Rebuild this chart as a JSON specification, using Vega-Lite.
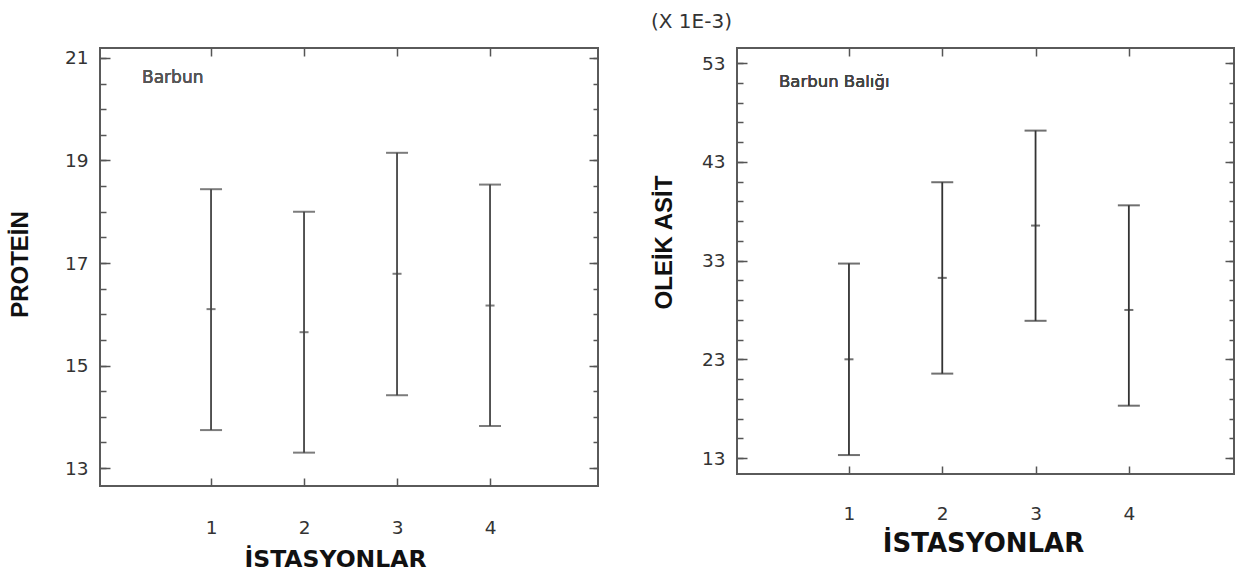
{
  "$schema": "https://vega.github.io/schema/vega-lite/v6.json",
  "background": "white",
  "padding": {"left": 7, "top": 11, "right": 0, "bottom": 0},
  "bounds": "flush",
  "spacing": 139,
  "config": {
    "view": {"stroke": "#5a5a5a", "strokeWidth": 2},
    "axis": {
      "domain": false, "grid": false,
      "labelFont": "DejaVu Sans", "labelFontSize": 18.5, "labelColor": "#333",
      "titleFont": "Liberation Sans", "titleFontSize": 24, "titleFontWeight": "bold", "titleColor": "#111",
      "tickColor": "#555", "tickWidth": 1.5
    }
  },
  "hconcat": [
    {
      "width": 498, "height": 438,
      "data": {"values": [
        {"st": 1, "lo": 13.74, "mean": 16.10, "hi": 18.44},
        {"st": 2, "lo": 13.30, "mean": 15.65, "hi": 18.00},
        {"st": 3, "lo": 14.42, "mean": 16.79, "hi": 19.15},
        {"st": 4, "lo": 13.82, "mean": 16.17, "hi": 18.53}
      ]},
      "resolve": {"axis": {"x": "independent", "y": "independent"}},
      "layer": [
        {
          "mark": {"type": "rule", "color": "#444", "strokeWidth": 1.8},
          "encoding": {
            "x": {"field": "st", "type": "quantitative", "scale": {"domain": [-0.194, 5.161], "nice": false, "zero": false},
                  "axis": {"orient": "bottom", "values": [1, 2, 3, 4], "format": "d", "tickSize": -8, "labelPadding": 55, "labelBaseline": "alphabetic",
                           "title": "İSTASYONLAR", "titleFont": "DejaVu Sans", "titleFontSize": 23.5, "titleX": 235, "titleY": 80, "titleBaseline": "alphabetic", "titleAlign": "center", "titleAnchor": null}},
            "y": {"field": "lo", "type": "quantitative", "scale": {"domain": [12.649, 21.195], "nice": false, "zero": false},
                  "axis": {"orient": "left", "values": [13, 15, 17, 19, 21], "tickSize": -10, "labelPadding": 22,
                           "title": "PROTEİN", "titleX": -80, "titleY": 216, "titleAngle": -90, "titleBaseline": "middle", "titleAlign": "center"}},
            "y2": {"field": "hi"}
          }
        },
        {
          "mark": {"type": "tick", "orient": "horizontal", "color": "#444", "size": 22, "thickness": 2},
          "encoding": {
            "x": {"field": "st", "type": "quantitative", "scale": {"domain": [-0.194, 5.161], "nice": false, "zero": false},
                  "axis": {"orient": "top", "values": [1, 2, 3, 4], "tickSize": -8, "labels": false, "title": null}},
            "y": {"field": "hi", "type": "quantitative", "scale": {"domain": [12.649, 21.195], "nice": false, "zero": false},
                  "axis": {"orient": "left", "values": [13, 13.5, 14, 14.5, 15, 15.5, 16, 16.5, 17, 17.5, 18, 18.5, 19, 19.5, 20, 20.5, 21], "tickSize": -6, "labels": false, "title": null}}
          }
        },
        {
          "mark": {"type": "tick", "orient": "horizontal", "color": "#444", "size": 22, "thickness": 2},
          "encoding": {
            "x": {"field": "st", "type": "quantitative", "scale": {"domain": [-0.194, 5.161], "nice": false, "zero": false}, "axis": null},
            "y": {"field": "lo", "type": "quantitative", "scale": {"domain": [12.649, 21.195], "nice": false, "zero": false},
                  "axis": {"orient": "right", "values": [13, 15, 17, 19, 21], "tickSize": -9, "labels": false, "title": null}}
          }
        },
        {
          "mark": {"type": "tick", "orient": "horizontal", "color": "#444", "size": 9, "thickness": 2},
          "encoding": {
            "x": {"field": "st", "type": "quantitative", "scale": {"domain": [-0.194, 5.161], "nice": false, "zero": false}, "axis": null},
            "y": {"field": "mean", "type": "quantitative", "scale": {"domain": [12.649, 21.195], "nice": false, "zero": false},
                  "axis": {"orient": "right", "values": [13, 13.5, 14, 14.5, 15, 15.5, 16, 16.5, 17, 17.5, 18, 18.5, 19, 19.5, 20, 20.5, 21], "tickSize": -5, "labels": false, "title": null}}
          }
        },
        {
          "mark": {"type": "text", "text": "Barbun", "align": "left", "baseline": "middle", "font": "DejaVu Sans", "fontSize": 17, "color": "#555"},
          "encoding": {
            "x": {"datum": 0.258, "type": "quantitative", "scale": {"domain": [-0.194, 5.161], "nice": false, "zero": false}, "axis": null},
            "y": {"datum": 20.61, "type": "quantitative", "scale": {"domain": [12.649, 21.195], "nice": false, "zero": false}, "axis": null}
          }
        }
      ]
    },
    {
      "width": 497, "height": 426,
      "title": {"text": "(X 1E-3)", "anchor": "start", "frame": "group", "dx": -86, "offset": -1, "baseline": "alphabetic", "font": "DejaVu Sans", "fontSize": 20, "fontWeight": "normal", "color": "#333"},
      "data": {"values": [
        {"st": 1, "lo": 13.3, "mean": 23.0, "hi": 32.7},
        {"st": 2, "lo": 21.55, "mean": 31.25, "hi": 40.94},
        {"st": 3, "lo": 26.9, "mean": 36.55, "hi": 46.17},
        {"st": 4, "lo": 18.3, "mean": 28.0, "hi": 38.6}
      ]},
      "resolve": {"axis": {"x": "independent", "y": "independent"}},
      "layer": [
        {
          "mark": {"type": "rule", "color": "#333", "strokeWidth": 1.8},
          "encoding": {
            "x": {"field": "st", "type": "quantitative", "scale": {"domain": [-0.2, 5.127], "nice": false, "zero": false},
                  "axis": {"orient": "bottom", "values": [1, 2, 3, 4], "format": "d", "tickSize": -8, "labelPadding": 53, "labelBaseline": "alphabetic",
                           "title": "İSTASYONLAR", "titleFont": "DejaVu Sans", "titleFontSize": 26, "titleX": 246, "titleY": 77, "titleBaseline": "alphabetic", "titleAlign": "center", "titleAnchor": null}},
            "y": {"field": "lo", "type": "quantitative", "scale": {"domain": [11.38, 54.54], "nice": false, "zero": false},
                  "axis": {"orient": "left", "values": [13, 23, 33, 43, 53], "tickSize": -10, "labelPadding": 22,
                           "title": "OLEİK ASİT", "titleX": -73, "titleY": 194, "titleAngle": -90, "titleBaseline": "middle", "titleAlign": "center"}},
            "y2": {"field": "hi"}
          }
        },
        {
          "mark": {"type": "tick", "orient": "horizontal", "color": "#333", "size": 22, "thickness": 2},
          "encoding": {
            "x": {"field": "st", "type": "quantitative", "scale": {"domain": [-0.2, 5.127], "nice": false, "zero": false},
                  "axis": {"orient": "top", "values": [1, 2, 3, 4], "tickSize": -8, "labels": false, "title": null}},
            "y": {"field": "hi", "type": "quantitative", "scale": {"domain": [11.38, 54.54], "nice": false, "zero": false},
                  "axis": {"orient": "left", "values": [13, 15, 17, 19, 21, 23, 25, 27, 29, 31, 33, 35, 37, 39, 41, 43, 45, 47, 49, 51, 53], "tickSize": -6, "labels": false, "title": null}}
          }
        },
        {
          "mark": {"type": "tick", "orient": "horizontal", "color": "#333", "size": 22, "thickness": 2},
          "encoding": {
            "x": {"field": "st", "type": "quantitative", "scale": {"domain": [-0.2, 5.127], "nice": false, "zero": false}, "axis": null},
            "y": {"field": "lo", "type": "quantitative", "scale": {"domain": [11.38, 54.54], "nice": false, "zero": false},
                  "axis": {"orient": "right", "values": [13, 23, 33, 43, 53], "tickSize": -9, "labels": false, "title": null}}
          }
        },
        {
          "mark": {"type": "tick", "orient": "horizontal", "color": "#333", "size": 9, "thickness": 2},
          "encoding": {
            "x": {"field": "st", "type": "quantitative", "scale": {"domain": [-0.2, 5.127], "nice": false, "zero": false}, "axis": null},
            "y": {"field": "mean", "type": "quantitative", "scale": {"domain": [11.38, 54.54], "nice": false, "zero": false},
                  "axis": {"orient": "right", "values": [13, 15, 17, 19, 21, 23, 25, 27, 29, 31, 33, 35, 37, 39, 41, 43, 45, 47, 49, 51, 53], "tickSize": -5, "labels": false, "title": null}}
          }
        },
        {
          "mark": {"type": "text", "text": "Barbun Balığı", "align": "left", "baseline": "middle", "font": "DejaVu Sans", "fontSize": 16.5, "color": "#444"},
          "encoding": {
            "x": {"datum": 0.25, "type": "quantitative", "scale": {"domain": [-0.2, 5.127], "nice": false, "zero": false}, "axis": null},
            "y": {"datum": 51.1, "type": "quantitative", "scale": {"domain": [11.38, 54.54], "nice": false, "zero": false}, "axis": null}
          }
        }
      ]
    }
  ]
}
